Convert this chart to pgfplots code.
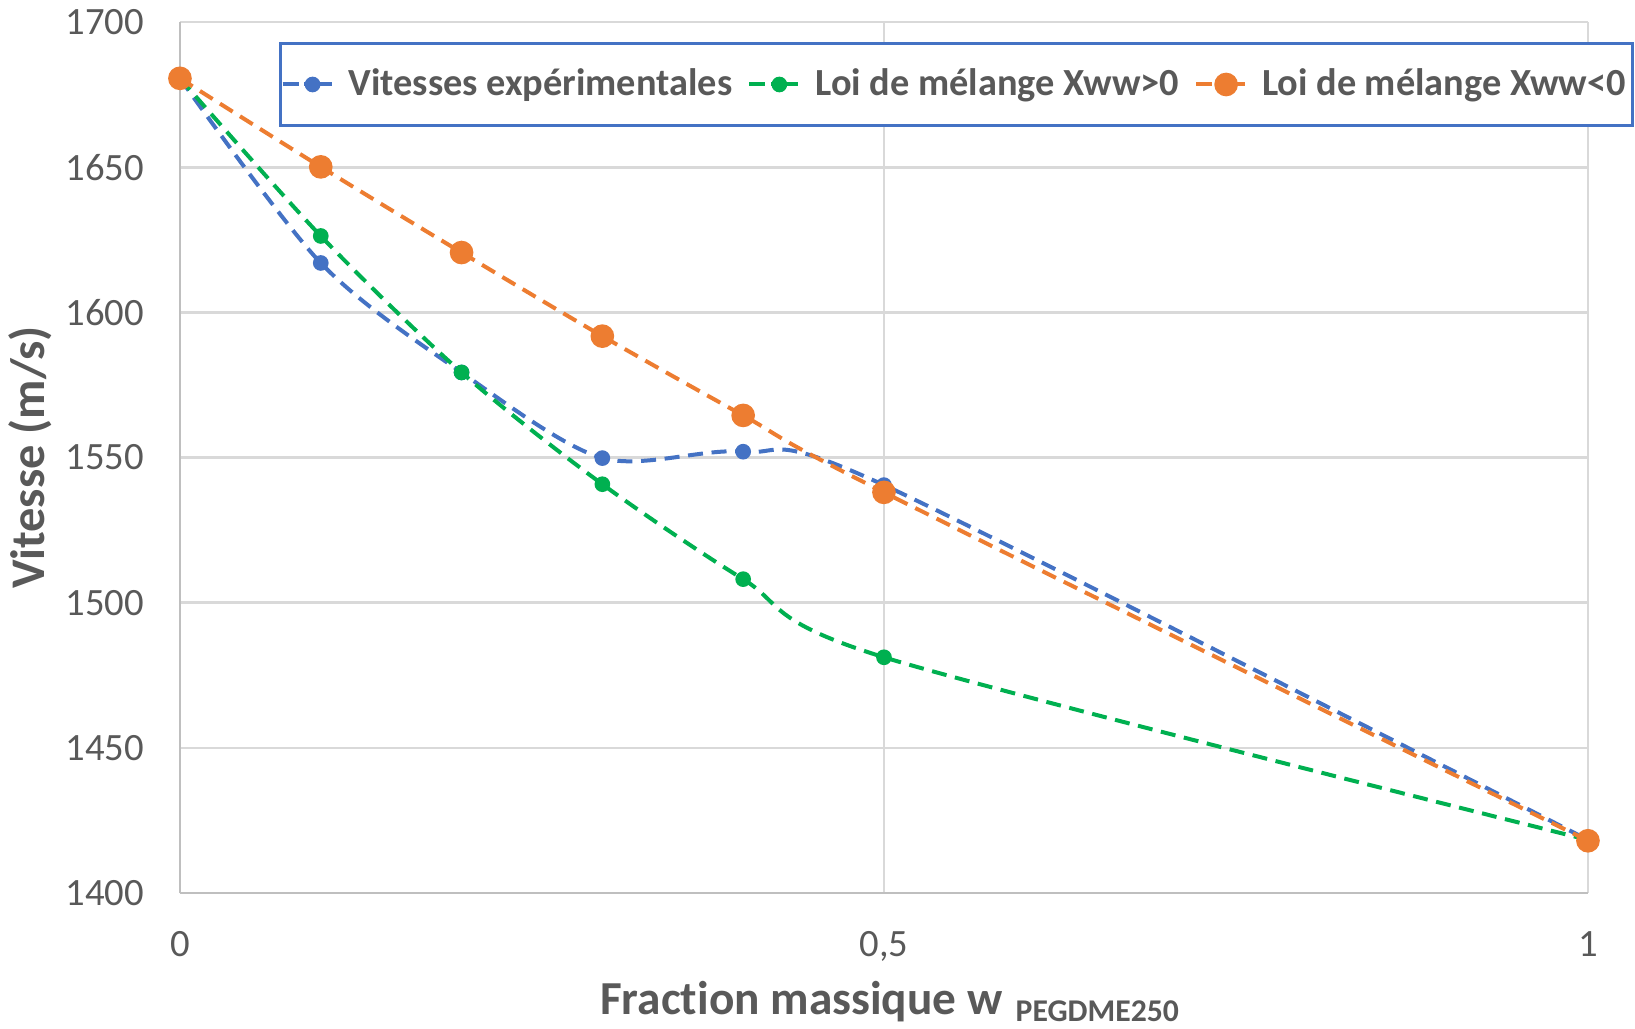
\documentclass[border=0pt]{standalone}
\usepackage{fontspec}
\setmainfont{Carlito}[Ligatures=NoCommon]
\usepackage{pgfplots}
\pgfplotsset{compat=1.18}

\definecolor{cblue}{HTML}{4472C4}
\definecolor{cgreen}{HTML}{00B050}
\definecolor{corange}{HTML}{ED7D31}
\definecolor{txtgray}{HTML}{595959}
\definecolor{gridgray}{HTML}{D9D9D9}
\definecolor{axgray}{HTML}{BFBFBF}

\pgfplotstableread{
x     v
0     1680.6
0.1   1617.0
0.2   1579.3
0.3   1549.8
0.4   1552.0
0.5   1540.5
1     1418.3
}\experim
\pgfplotstableread{
x     v
0     1680.6
0.1   1626.3
0.2   1579.3
0.3   1540.8
0.4   1508.1
0.5   1481.2
1     1418.3
}\melpos
\pgfplotstableread{
x     v
0     1680.6
0.1   1650.1
0.2   1620.6
0.3   1591.8
0.4   1564.5
0.5   1538.0
1     1418.0
}\melneg

\begin{document}
\begin{tikzpicture}
\begin{axis}[
  scale only axis,
  width=422.4pt, height=261.3pt,
  xmin=0, xmax=1, ymin=1400, ymax=1700,
  xtick={0,0.5,1}, ytick={1400,1450,...,1700},
  axis x line=bottom, axis y line=left,
  axis line style={axgray, line width=0.8pt, -},
  major tick length=0pt,
  grid=major, grid style={gridgray, line width=0.8pt},
  clip=false,
  /pgf/number format/use comma,
  /pgf/number format/assume math mode=true,
  tick label style={font=\fontsize{11.6}{13}\selectfont, text=txtgray},
  yticklabel style={xshift=-7.3pt},
  xticklabel style={yshift=-8pt},
  xticklabel={\pgfmathprintnumber[use comma]{\tick}},
  yticklabel={\pgfmathprintnumber[set thousands separator={}]{\tick}},
  ylabel={\textbf{Vitesse (m/s)}},
  ylabel style={font=\fontsize{14.5}{16}\selectfont, text=txtgray,
    at={(rel axis cs:-0.106,0.5)}, anchor=center},
  xlabel={\textbf{Fraction massique w\hspace{4pt}\raisebox{-2.2pt}{\fontsize{9.5}{11}\selectfont PEGDME250}}},
  xlabel style={font=\fontsize{14.2}{16}\selectfont, text=txtgray,
    at={(rel axis cs:0.504,-0.139)}, anchor=base},
  legend columns=3,
  legend style={at={(rel axis cs:0.0704,0.977)}, anchor=north west,
    draw=cblue, line width=0.9pt, font=\bfseries\fontsize{11.5}{13}\selectfont,
    text=txtgray, inner xsep=0pt, inner ysep=5.5pt,
    /tikz/column sep=2.5pt},
  legend image code/.code={
    \draw[#1, solid] (0pt,0pt) -- (4.8pt,0pt);
    \draw[#1, solid] (6.5pt,0pt) -- (14.7pt,0pt);
    \draw[#1, only marks] plot coordinates {(9pt,0pt)};
  },
]
\addplot[cblue, line width=1.2pt, dash pattern=on 4.5pt off 2.6pt, smooth,
  mark=*, mark size=2.1pt, mark options={solid, line width=0.5pt}] table {\experim};
\addlegendentry{Vitesses expérimentales}
\addplot[cgreen, line width=1.2pt, dash pattern=on 4.5pt off 2.6pt, smooth,
  mark=*, mark size=2.1pt, mark options={solid, line width=0.5pt}] table {\melpos};
\addlegendentry{Loi de mélange Xww>0}
\addplot[corange, line width=1.2pt, dash pattern=on 4.5pt off 2.6pt, smooth,
  mark=*, mark size=3.3pt, mark options={solid, line width=0.5pt}] table {\melneg};
\addlegendentry{Loi de mélange Xww<0}
\coordinate (bbsw) at (rel axis cs:-0.1278,-0.155);
\coordinate (bbne) at (rel axis cs:1.0334,1.0253);
\end{axis}
\pgfresetboundingbox
\path (bbsw) rectangle (bbne);
\end{tikzpicture}
\end{document}
